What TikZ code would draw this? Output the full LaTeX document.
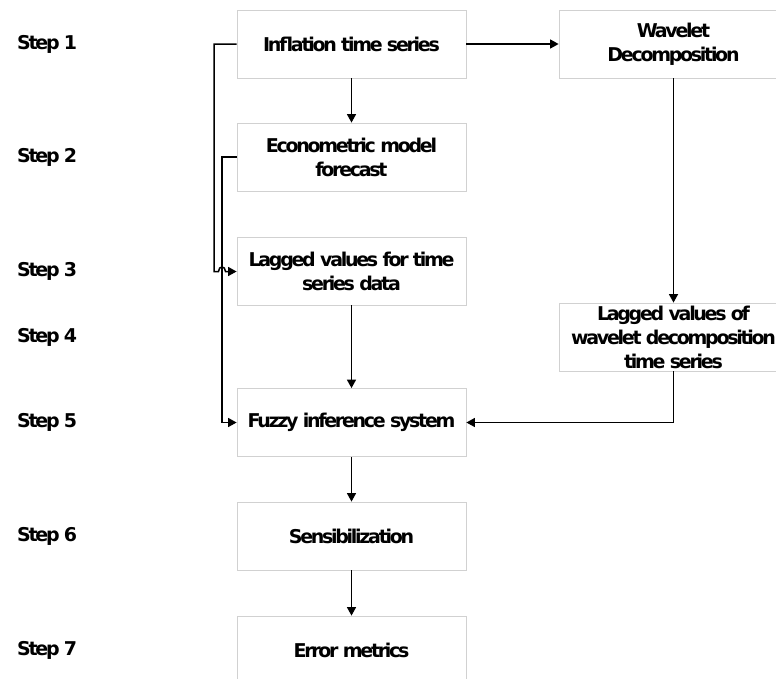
\documentclass[tikz,border=0pt]{standalone}
\usepackage{fontspec}
\setmainfont{DejaVu Sans}[LetterSpace=-12]
\usetikzlibrary{arrows.meta}
\tikzset{
  box/.style={draw=black!18, line width=0.8pt, fill=white, minimum width=229pt, minimum height=68pt, inner sep=0pt, align=center, font=\fontsize{19}{24}\selectfont\bfseries},
  steplabel/.style={anchor=west, inner sep=0pt, font=\fontsize{19}{24}\selectfont\bfseries},
  arr/.style={line width=1.5pt, -{Triangle[length=8.5pt,width=9pt]}},
}
\begin{document}
\begin{tikzpicture}[x=1pt,y=-1pt]
\useasboundingbox (0,0) rectangle (776,678);
\clip (0,0) rectangle (776,678);
% boxes
\node[box] (infl) at (351.5,44) {Inflation time series};
\node[box] (econ) at (351.5,157) {Econometric model\\forecast};
\node[box] (lag) at (351.5,271) {Lagged values for time\\series data};
\node[box] (fuzzy) at (351.5,422.5) {Fuzzy inference system};
\node[box] (sens) at (351.5,536) {Sensibilization};
\node[box] (err) at (351.5,650) {Error metrics};
\node[box] (wav) at (673.5,44) {Wavelet\\Decomposition};
\node[box] (lw) at (673.5,337) {Lagged values of\\wavelet decomposition\\time series};
% step labels
\node[steplabel] (s1) at (17,44) {Step 1};
\node[steplabel] (s2) at (17,157) {Step 2};
\node[steplabel] (s3) at (17,271) {Step 3};
\node[steplabel] (s4) at (17,337) {Step 4};
\node[steplabel] (s5) at (17,422.5) {Step 5};
\node[steplabel] (s6) at (17,536) {Step 6};
\node[steplabel] (s7) at (17,650) {Step 7};
% bend coordinates
\coordinate (a1) at (214,44);
\coordinate (a2) at (214,271.5);
\coordinate (h1) at (218.5,271.5);
\coordinate (h2) at (225.5,271.5);
\coordinate (b1) at (222,157);
\coordinate (b2) at (222,422.5);
% connectors
\draw[arr] (infl.east) -- (wav.west);
\draw[arr] (infl.south) -- (econ.north);
\draw[arr] (wav.south) -- (lw.north);
\draw[arr] (lw.south) |- (fuzzy.east);
\draw[arr] (lag.south) -- (fuzzy.north);
\draw[arr] (fuzzy.south) -- (sens.north);
\draw[arr] (sens.south) -- (err.north);
\draw[arr] (econ.west) -- (b1) -- (b2) -- (fuzzy.west);
\draw[arr] (infl.west) -- (a1) -- (a2) -- (h1) .. controls (218.5,265.5) and (225.5,265.5) .. (h2) -- (lag.west |- h2);
\end{tikzpicture}
\end{document}
